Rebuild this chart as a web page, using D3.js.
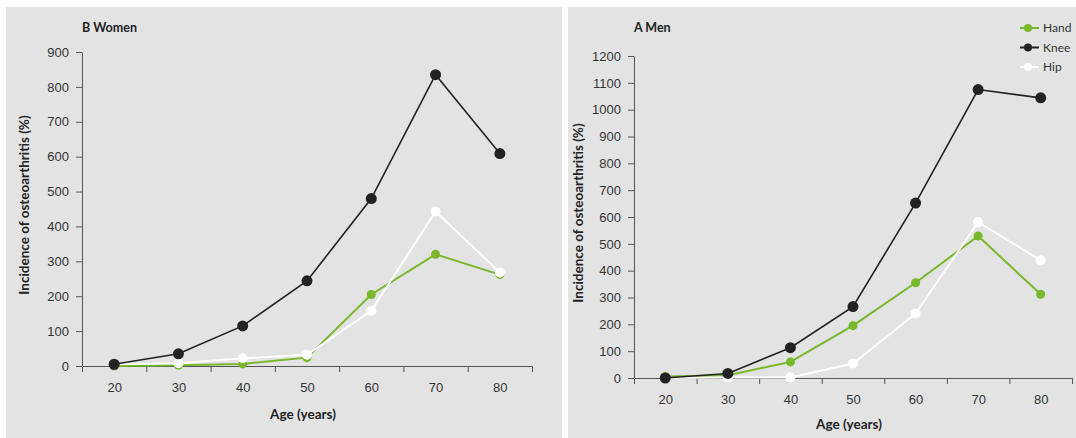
<!DOCTYPE html>
<html>
<head>
<meta charset="utf-8">
<script src="https://cdn.jsdelivr.net/npm/d3@7"></script>
<style>
  body { margin: 0; background: #fff; }
  svg { display: block; font-family: Lato, "Open Sans", sans-serif; }
  .tick text { fill: #333; font-size: 13px; }
  .domain, .tick line { stroke: #555; }
</style>
</head>
<body>
<script>
// data
var ages = [20, 30, 40, 50, 60, 70, 80];
var seriesNames = ["Hand", "Knee", "Hip"];

var womenHand = [0, 2, 6, 24, 205, 320, 262];
var womenKnee = [5, 35, 115, 244, 480, 835, 609];
var womenHip  = [5, 8, 22, 32, 158, 443, 268];

var menHand = [6, 10, 60, 195, 355, 529, 312];
var menKnee = [0, 17, 113, 266, 652, 1075, 1044];
var menHip  = [0, 2, 2, 54, 240, 581, 439];

var womenTicks = [0, 100, 200, 300, 400, 500, 600, 700, 800, 900];
var menTicks = [0, 100, 200, 300, 400, 500, 600, 700, 800, 900, 1000, 1100, 1200];

// styles per series
var colors = { Hand: "#78b82a", Knee: "#222222", Hip: "#ffffff" };
var radius = { Hand: 4.5, Knee: 5.5, Hip: 5 };
var lineW  = { Hand: 2, Knee: 1.6, Hip: 2 };
var drawOrder = ["Hand", "Hip", "Knee"];

var W = 1076, H = 438;
var svg = d3.select("body").append("svg").attr("width", W).attr("height", H);

// one panel
function panel(cfg) {
  var g = svg.append("g");
  g.append("rect")
    .attr("x", cfg.px).attr("y", 7)
    .attr("width", cfg.pw).attr("height", H - 7)
    .attr("fill", "#e3e3e3");

  var x = d3.scaleLinear().domain([15, 85]).range([cfg.x0, cfg.x1]);
  var y = d3.scaleLinear().domain([0, cfg.ymax]).range([cfg.y0, cfg.ytop]);

  // x axis: ticks between the ages, labels under the ages
  g.append("g").attr("transform", "translate(0," + cfg.y0 + ")")
    .call(d3.axisBottom(x).tickValues([25, 35, 45, 55, 65, 75])
      .tickFormat("").tickSizeInner(6).tickSizeOuter(6));
  var xl = g.append("g").attr("transform", "translate(0," + cfg.y0 + ")")
    .call(d3.axisBottom(x).tickValues(ages).tickSize(0).tickPadding(cfg.xpad));
  xl.select(".domain").remove();

  g.append("g").attr("transform", "translate(" + cfg.x0 + ",0)")
    .call(d3.axisLeft(y).tickValues(cfg.ticks).tickFormat(d3.format("d"))
      .tickSizeInner(6).tickSizeOuter(0).tickPadding(7));

  // lines and dots
  var line = d3.line().x(function(d, i) { return x(ages[i]); }).y(function(d) { return y(d); });
  drawOrder.forEach(function(name) {
    var vals = cfg.data[name];
    g.append("path").datum(vals)
      .attr("d", line).attr("fill", "none")
      .attr("stroke", colors[name]).attr("stroke-width", lineW[name]);
    g.selectAll("circle." + name).data(vals).enter().append("circle")
      .attr("class", name)
      .attr("cx", function(d, i) { return x(ages[i]); })
      .attr("cy", function(d) { return y(d); })
      .attr("r", radius[name])
      .attr("fill", colors[name]);
  });

  // texts
  g.append("text").attr("x", cfg.x0).attr("y", 32)
    .attr("font-size", 12.5).attr("font-weight", "bold").attr("fill", "#222")
    .text(cfg.title);
  g.append("text")
    .attr("transform", "translate(" + cfg.ylx + "," + ((cfg.y0 + cfg.ytop) / 2 - 4) + ") rotate(-90)")
    .attr("text-anchor", "middle").attr("dy", "0.35em")
    .attr("font-size", 13.5).attr("font-weight", "bold").attr("fill", "#222")
    .text("Incidence of osteoarthritis (%)");
  g.append("text").attr("x", (cfg.x0 + cfg.x1) / 2 - 4).attr("y", cfg.y0 + cfg.tpad)
    .attr("text-anchor", "middle")
    .attr("font-size", 13.5).attr("font-weight", "bold").attr("fill", "#222")
    .text("Age (years)");
}

panel({
  px: 6, pw: 556, x0: 82, x1: 532, y0: 366, ytop: 52, ymax: 900,
  ticks: womenTicks, title: "B Women", ylx: 24, xpad: 17, tpad: 53,
  data: { Hand: womenHand, Knee: womenKnee, Hip: womenHip }
});
panel({
  px: 568, pw: 508, x0: 634, x1: 1072, y0: 378, ytop: 56, ymax: 1200,
  ticks: menTicks, title: "A Men", ylx: 578, xpad: 17, tpad: 51,
  data: { Hand: menHand, Knee: menKnee, Hip: menHip }
});

// legend
var legend = svg.append("g");
seriesNames.forEach(function(name, i) {
  var ly = 28 + i * 19.5;
  legend.append("line").attr("x1", 1020).attr("x2", 1039).attr("y1", ly).attr("y2", ly)
    .attr("stroke", colors[name]).attr("stroke-width", 2);
  legend.append("circle").attr("cx", 1028).attr("cy", ly).attr("r", 4).attr("fill", colors[name]);
  legend.append("text").attr("x", 1043).attr("y", ly).attr("dy", "0.35em")
    .attr("font-size", 12).attr("fill", "#333").text(name);
});
</script>
</body>
</html>
